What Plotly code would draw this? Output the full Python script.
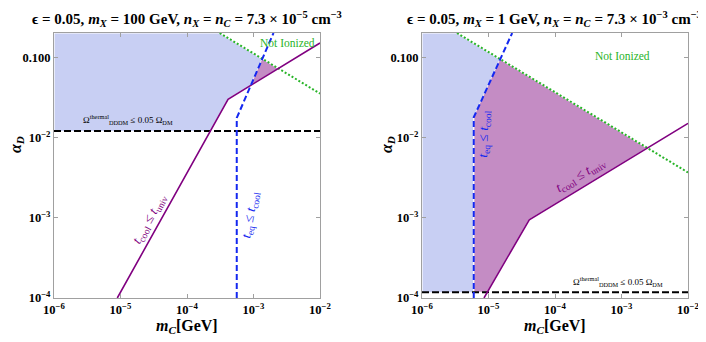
import math

import plotly.graph_objects as go

# ---- data (m_C in GeV, alpha_D) ----
# left panel: m_X = 100 GeV, n = 7.3e-5 cm^-3
L_purple_x = [8.95e-6, 4.14e-4, 1e-2]
L_purple_y = [1e-4, 0.0299, 0.150]
L_blue_x = [5.6e-4, 5.6e-4, 2.0e-3]
L_blue_y = [1e-4, 0.0175, 0.2]
L_green_x = [3.1e-4, 1e-2]
L_green_y = [0.2, 0.0352]
L_omega = 0.012
L_fill_blue_x = [1e-6, 1e-6, 3.1e-4, 1.36e-3, 9.14e-4, 4.14e-4, 2.24e-4]
L_fill_blue_y = [0.012, 0.2, 0.2, 0.0955, 0.0447, 0.0299, 0.012]
L_fill_purple_x = [1.36e-3, 2.37e-3, 9.14e-4]
L_fill_purple_y = [0.0955, 0.0724, 0.0447]

# right panel: m_X = 1 GeV, n = 7.3e-3 cm^-3
R_purple_x = [8.55e-6, 4.1e-5, 1e-2]
R_purple_y = [1e-4, 9.44e-4, 0.0150]
R_blue_x = [6.0e-6, 6.0e-6, 2.27e-5]
R_blue_y = [1e-4, 0.0178, 0.2]
R_green_x = [3.36e-6, 1e-2]
R_green_y = [0.2, 3.66e-3]
R_omega = 1.18e-4
R_fill_blue_x = [1e-6, 1e-6, 3.36e-6, 1.50e-5, 6.0e-6, 6.0e-6]
R_fill_blue_y = [1.18e-4, 0.2, 0.2, 0.0945, 0.0178, 1.18e-4]
R_fill_purple_x = [1.50e-5, 2.45e-3, 4.1e-5, 9.6e-6, 6.0e-6, 6.0e-6]
R_fill_purple_y = [0.0945, 7.40e-3, 9.44e-4, 1.18e-4, 1.18e-4, 0.0178]

x_ticks = [1e-6, 1e-5, 1e-4, 1e-3, 1e-2]
x_ticktext = ["10<sup>\u22126</sup>", "10<sup>\u22125</sup>", "10<sup>\u22124</sup>",
              "10<sup>\u22123</sup>", "10<sup>\u22122</sup>"]
y_ticks = [1e-4, 1e-3, 1e-2, 0.1]
y_ticktext = ["10<sup>\u22124</sup>", "10<sup>\u22123</sup>", "10<sup>\u22122</sup>", "0.100"]

FONT = "Liberation Serif"
BLUE_FILL = "rgb(200,207,243)"
PURPLE_FILL = "rgb(196,140,196)"
PURPLE = "rgb(128,0,128)"
BLUE = "rgb(20,40,240)"
GREEN = "rgb(40,180,40)"

# the page body has an 8px margin, so the figure is 8px smaller than the window
OFF = 8
W, H = 706 - OFF, 342 - OFF


def px_x(p):
    return (p - OFF) / W


def px_y(p):
    return (H - (p - OFF)) / H


fig = go.Figure()


def add_panel(fig, xa, ya, d):
    xr, yr = "x" + xa, "y" + ya
    fig.add_trace(go.Scatter(x=d["fb_x"], y=d["fb_y"], fill="toself", fillcolor=BLUE_FILL,
                             mode="lines", line=dict(color="white", width=1.2), xaxis=xr, yaxis=yr))
    fig.add_trace(go.Scatter(x=d["fp_x"], y=d["fp_y"], fill="toself", fillcolor=PURPLE_FILL,
                             mode="lines", line=dict(color="white", width=1.2), xaxis=xr, yaxis=yr))
    fig.add_trace(go.Scatter(x=[1e-6, 1e-2], y=[d["om"], d["om"]], mode="lines",
                             line=dict(color="black", width=2, dash="7px,3px"), xaxis=xr, yaxis=yr))
    fig.add_trace(go.Scatter(x=d["g_x"], y=d["g_y"], mode="lines",
                             line=dict(color=GREEN, width=2, dash="2px,2px"), xaxis=xr, yaxis=yr))
    fig.add_trace(go.Scatter(x=d["p_x"], y=d["p_y"], mode="lines",
                             line=dict(color=PURPLE, width=1.6), xaxis=xr, yaxis=yr))
    fig.add_trace(go.Scatter(x=d["b_x"], y=d["b_y"], mode="lines",
                             line=dict(color=BLUE, width=2, dash="6px,3px"), xaxis=xr, yaxis=yr))


add_panel(fig, "", "", dict(fb_x=L_fill_blue_x, fb_y=L_fill_blue_y, fp_x=L_fill_purple_x,
                            fp_y=L_fill_purple_y, om=L_omega, g_x=L_green_x, g_y=L_green_y,
                            p_x=L_purple_x, p_y=L_purple_y, b_x=L_blue_x, b_y=L_blue_y))
add_panel(fig, "2", "2", dict(fb_x=R_fill_blue_x, fb_y=R_fill_blue_y, fp_x=R_fill_purple_x,
                              fp_y=R_fill_purple_y, om=R_omega, g_x=R_green_x, g_y=R_green_y,
                              p_x=R_purple_x, p_y=R_purple_y, b_x=R_blue_x, b_y=R_blue_y))

axis_common = dict(type="log", showline=True, linecolor="#a0a0a0", linewidth=1, mirror="ticks",
                   ticks="inside", ticklen=4, tickcolor="#a0a0a0", showgrid=False, zeroline=False,
                   automargin=False,
                   tickfont=dict(family=FONT, size=12.5, color="black", weight="bold"))
y_dom = [px_y(298), px_y(33)]
fig.update_layout(
    xaxis=dict(axis_common, range=[-6, -2], domain=[px_x(54), px_x(320)], anchor="y",
               tickvals=x_ticks, ticktext=x_ticktext),
    yaxis=dict(axis_common, range=[-4, math.log10(0.2)], domain=y_dom, anchor="x",
               tickvals=y_ticks, ticktext=y_ticktext),
    xaxis2=dict(axis_common, range=[-6, -2], domain=[px_x(422), px_x(688)], anchor="y2",
                tickvals=x_ticks, ticktext=x_ticktext),
    yaxis2=dict(axis_common, range=[-4, math.log10(0.2)], domain=y_dom, anchor="x2",
                tickvals=y_ticks, ticktext=y_ticktext),
    width=W, height=H, margin=dict(l=0, r=0, t=0, b=0, autoexpand=False),
    paper_bgcolor="white", plot_bgcolor="white", showlegend=False,
    font=dict(family=FONT, color="black"),
)

ann = []
titles = [
    ("<b>\u03f5 = 0.05, <i>m<sub>X</sub></i> = 100 GeV, <i>n<sub>X</sub></i> = <i>n<sub>C</sub></i> = "
     "7.3 \u00d7 10<sup>\u22125</sup> cm<sup>\u22123</sup></b>", 187),
    ("<b>\u03f5 = 0.05, <i>m<sub>X</sub></i> = 1 GeV, <i>n<sub>X</sub></i> = <i>n<sub>C</sub></i> = "
     "7.3 \u00d7 10<sup>\u22123</sup> cm<sup>\u22123</sup></b>", 554),
]
for txt, px in titles:
    ann.append(dict(text=txt, x=px_x(px), y=px_y(18.5), xref="paper", yref="paper",
                    xanchor="center", yanchor="middle", showarrow=False, font=dict(size=15)))
for px in (187, 555):
    ann.append(dict(text="<b><i>m<sub>C</sub></i>[GeV]</b>", x=px_x(px), y=px_y(326),
                    xref="paper", yref="paper", xanchor="center", yanchor="middle",
                    showarrow=False, font=dict(size=16)))
for px in (16, 387):
    ann.append(dict(text="<b><i>\u03b1<sub>D</sub></i></b>", x=px_x(px), y=px_y(145),
                    xref="paper", yref="paper", xanchor="center", yanchor="middle",
                    showarrow=False, textangle=-90, font=dict(size=16)))

omega_txt = "\u03a9<sup>thermal</sup><sub>DDDM</sub> \u2264 0.05 \u03a9<sub>DM</sub>"
tcool_txt = "<i>t</i><sub>cool</sub> \u2264 <i>t</i><sub>univ</sub>"
teq_txt = "<i>t</i><sub>eq</sub> \u2264 <i>t</i><sub>cool</sub>"


def lab(text, x, y, xr, yr, color, size, angle=0):
    return dict(text=text, x=math.log10(x), y=math.log10(y), xref=xr, yref=yr, showarrow=False,
                xanchor="center", yanchor="middle", textangle=angle,
                font=dict(size=size, color=color))


ann += [
    lab("Not Ionized", 3.2e-3, 0.15, "x", "y", GREEN, 11.5),
    lab(omega_txt, 1.3e-5, 0.0168, "x", "y", "black", 9),
    lab(tcool_txt, 2.7e-5, 9.6e-4, "x", "y", PURPLE, 13.5, -61),
    lab(teq_txt, 9.1e-4, 1.09e-3, "x", "y", BLUE, 13.5, -80),
    lab("Not Ionized", 1.02e-3, 0.103, "x2", "y2", GREEN, 11.5),
    lab(omega_txt, 8.85e-4, 1.6e-4, "x2", "y2", "black", 9),
    lab(tcool_txt, 2.4e-4, 3.4e-3, "x2", "y2", PURPLE, 13.5, -31),
    lab(teq_txt, 8.6e-6, 0.0109, "x2", "y2", BLUE, 13.5, -88),
]
fig.update_layout(annotations=ann)

fig.write_html("out.html")
